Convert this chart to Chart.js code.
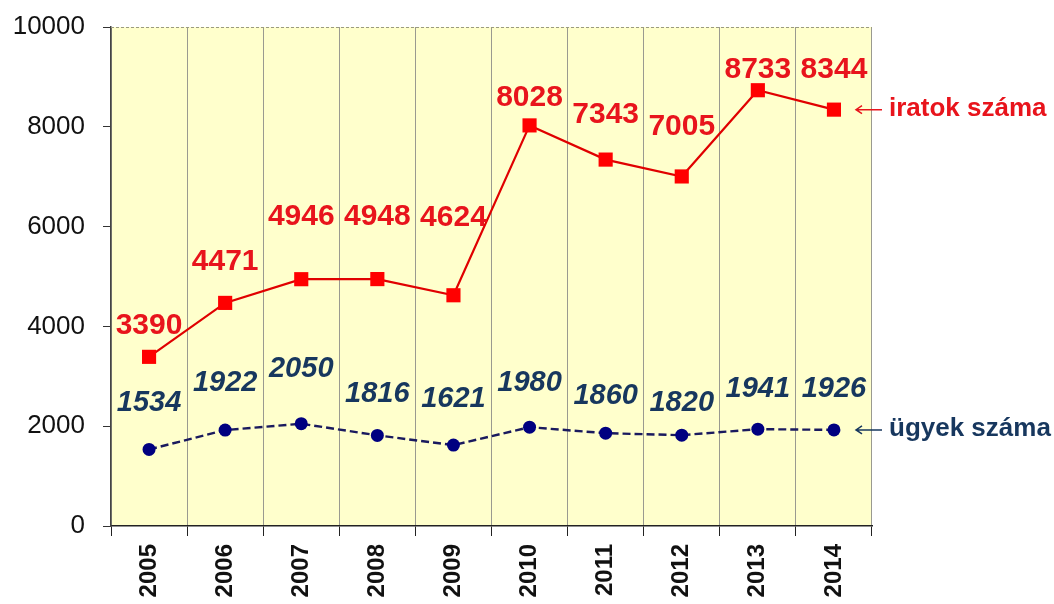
<!DOCTYPE html>
<html>
<head>
<meta charset="utf-8">
<script src="https://cdn.jsdelivr.net/npm/chart.js@4/dist/chart.umd.min.js"></script>
<style>
  html, body { margin: 0; padding: 0; background: #fff; }
  #wrap { width: 1054px; height: 604px; }
</style>
</head>
<body>
<div id="wrap"><canvas id="chart" width="1054" height="604"></canvas></div>
<script>
// years on the x axis
const years = ['2005', '2006', '2007', '2008', '2009', '2010', '2011', '2012', '2013', '2014'];
// iratok száma (documents)
const iratok = [3390, 4471, 4946, 4948, 4624, 8028, 7343, 7005, 8733, 8344];
// ügyek száma (cases)
const ugyek = [1534, 1922, 2050, 1816, 1621, 1980, 1860, 1820, 1941, 1926];
const yTicks = [0, 2000, 4000, 6000, 8000, 10000];

const RED = '#E8141C';
const NAVY = '#17375E';

// how far above each point its value label sits (px)
const redLift = [31, 41, 62, 62, 78, 28, 45, 50, 20, 40];
const blueLift = [46, 47, 55, 41, 46, 44, 37, 32, 40, 41];

const decor = {
    id: 'decor',
    beforeDraw(chart) {
        const { ctx, chartArea: a } = chart;
        ctx.save();
        ctx.fillStyle = '#FFFFCC';
        ctx.fillRect(a.left, a.top, a.right - a.left, a.bottom - a.top);
        ctx.restore();
    },
    afterDraw(chart) {
        const { ctx, chartArea: a } = chart;
        ctx.save();
        // dashed line along the top
        ctx.strokeStyle = '#9a9a80';
        ctx.lineWidth = 1;
        ctx.setLineDash([3, 2]);
        ctx.beginPath();
        ctx.moveTo(a.left, a.top + 0.5);
        ctx.lineTo(a.right, a.top + 0.5);
        ctx.stroke();
        ctx.setLineDash([]);

        // value labels
        ctx.textAlign = 'center';
        ctx.textBaseline = 'middle';
        const m0 = chart.getDatasetMeta(0).data;
        ctx.font = 'bold 30px "Liberation Sans", Arial, sans-serif';
        ctx.fillStyle = RED;
        m0.forEach((p, i) => ctx.fillText(String(iratok[i]), p.x, p.y - redLift[i]));
        const m1 = chart.getDatasetMeta(1).data;
        ctx.font = 'italic bold 29px "Liberation Sans", Arial, sans-serif';
        ctx.fillStyle = NAVY;
        m1.forEach((p, i) => ctx.fillText(String(ugyek[i]), p.x, p.y - blueLift[i]));

        // series names with arrows on the right
        const note = (p, text, color) => {
            const x0 = a.right - 16, x1 = a.right + 10;
            ctx.strokeStyle = color;
            ctx.fillStyle = color;
            ctx.lineWidth = 1.5;
            ctx.beginPath();
            ctx.moveTo(x1, p.y);
            ctx.lineTo(x0, p.y);
            ctx.moveTo(x0 + 6, p.y - 4);
            ctx.lineTo(x0, p.y);
            ctx.lineTo(x0 + 6, p.y + 4);
            ctx.stroke();
            ctx.textAlign = 'left';
            ctx.font = 'bold 26px "Liberation Sans", Arial, sans-serif';
            ctx.fillText(text, a.right + 17, p.y - 1);
        };
        note(m0[m0.length - 1], 'iratok száma', RED);
        note(m1[m1.length - 1], 'ügyek száma', NAVY);
        ctx.restore();
    }
};

new Chart(document.getElementById('chart'), {
    type: 'line',
    data: {
        labels: years,
        datasets: [{
            label: 'iratok száma',
            data: iratok,
            borderColor: '#E00000',
            backgroundColor: '#FF0000',
            borderWidth: 2.2,
            pointStyle: 'rect',
            pointRadius: 10,
            pointBorderWidth: 0,
            tension: 0
        }, {
            label: 'ügyek száma',
            data: ugyek,
            borderColor: '#1A1A5E',
            backgroundColor: '#000080',
            borderWidth: 2.4,
            borderDash: [8, 4],
            pointStyle: 'circle',
            pointRadius: 6.5,
            pointBorderWidth: 0,
            tension: 0
        }]
    },
    options: {
        responsive: false,
        animation: false,
        layout: { padding: { top: 27, right: 182, left: 0, bottom: 0 } },
        plugins: { legend: { display: false }, tooltip: { enabled: false } },
        scales: {
            x: {
                offset: true,
                grid: { offset: true, color: '#9a9a90', tickColor: '#222', tickLength: 10, lineWidth: 1 },
                border: { color: '#222', width: 1.5 },
                ticks: {
                    minRotation: 90, maxRotation: 90, color: '#111', padding: 8,
                    font: { family: '"Liberation Sans", Arial, sans-serif', size: 24, weight: 'bold' }
                },
                afterFit(scale) { scale.height = 78; }
            },
            y: {
                min: 0,
                max: 10000,
                afterBuildTicks(scale) { scale.ticks = yTicks.map(v => ({ value: v })); },
                grid: { drawOnChartArea: false, tickLength: 8, color: '#333' },
                border: { color: '#444', width: 1.5 },
                ticks: {
                    color: '#111', padding: 18,
                    callback: v => String(v),
                    font: { family: '"Liberation Sans", Arial, sans-serif', size: 26 }
                },
                afterFit(scale) { scale.width = 111; scale.paddingTop = 0; scale.paddingBottom = 0; }
            }
        }
    },
    plugins: [decor]
});
</script>
</body>
</html>
